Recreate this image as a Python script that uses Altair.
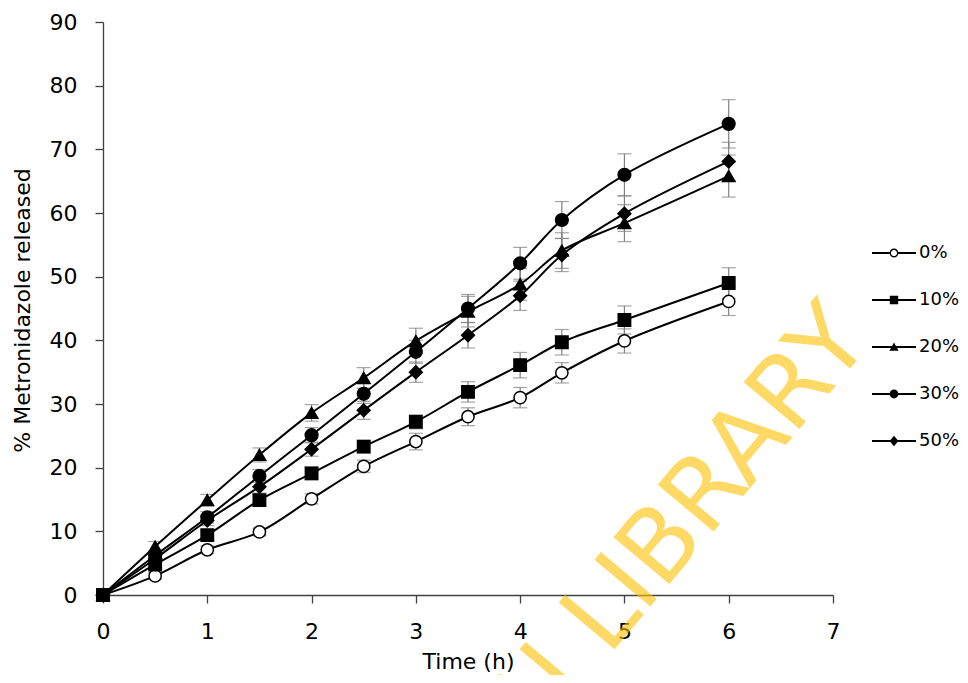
import altair as alt
import pandas as pd

# ---- data ----
time_h = [0, 0.5, 1, 1.5, 2, 2.5, 3, 3.5, 4, 4.4, 5, 6]
series_names = ["0%", "10%", "20%", "30%", "50%"]

rel_0 = [0, 3.0, 7.1, 9.9, 15.1, 20.2, 24.1, 28.0, 31.0, 34.9, 39.9, 46.1]
rel_10 = [0, 4.8, 9.4, 14.9, 19.1, 23.3, 27.2, 31.9, 36.1, 39.7, 43.2, 49.0]
rel_20 = [0, 7.6, 14.9, 22.0, 28.6, 34.1, 39.9, 44.5, 48.8, 54.1, 58.4, 65.8]
rel_30 = [0, 6.2, 12.2, 18.7, 25.1, 31.6, 38.2, 45.0, 52.1, 58.9, 66.0, 74.0]
rel_50 = [0, 5.7, 11.7, 17.0, 22.9, 29.0, 35.0, 40.8, 47.0, 53.4, 59.9, 68.1]

err_0 = [0, 0.5, 0.6, 0.6, 0.8, 1.0, 1.3, 1.4, 1.6, 1.6, 1.9, 2.2]
err_10 = [0, 0.6, 0.8, 0.9, 1.0, 1.0, 1.1, 1.6, 2.0, 2.0, 2.2, 2.4]
err_20 = [0, 0.8, 0.9, 1.1, 1.3, 1.6, 2.0, 2.4, 2.5, 2.8, 2.9, 3.3]
err_30 = [0, 0.7, 0.9, 1.0, 1.2, 1.5, 1.8, 2.2, 2.5, 2.9, 3.3, 3.8]
err_50 = [0, 0.7, 0.8, 1.0, 1.1, 1.4, 1.6, 2.0, 2.3, 2.6, 2.8, 3.0]

x_ticks = [0, 1, 2, 3, 4, 5, 6, 7]
y_ticks = [0, 10, 20, 30, 40, 50, 60, 70, 80, 90]
watermark_text = "UNIVERSITY OF IBADAN LIBRARY"

# ---- build table ----
values = [rel_0, rel_10, rel_20, rel_30, rel_50]
errors = [err_0, err_10, err_20, err_30, err_50]
rows = []
for name, vals, errs in zip(series_names, values, errors):
    for t, v, e in zip(time_h, vals, errs):
        rows.append({"series": name, "time": t, "value": v, "err": e,
                     "lo": v - e, "hi": v + e})
df = pd.DataFrame(rows)

FONT = "DejaVu Sans"

x_enc = alt.X("time:Q", scale=alt.Scale(domain=[0, 7], nice=False),
              axis=alt.Axis(values=x_ticks, title="Time (h)", format="d",
                            labelFlush=False,
                            titleY=73, titleBaseline="alphabetic",
                            titleFontSize=22, titleFontWeight="normal"))
y_scale = alt.Scale(domain=[0, 90], nice=False)
y_enc = alt.Y("value:Q", scale=y_scale,
              axis=alt.Axis(values=y_ticks, title="% Metronidazole released",
                            labelFlush=False,
                            titleX=-81, titleY=288, titleAngle=270,
                            titleAlign="center", titleBaseline="middle",
                            titleFontSize=22, titleFontWeight="normal"))

base = alt.Chart(df)

err_filter = "datum.err > 0"
bars = base.transform_filter(err_filter).mark_rule(
    color="#7f7f7f", strokeWidth=1.2
).encode(x=x_enc, y=alt.Y("lo:Q", scale=y_scale), y2="hi:Q")

caps = base.transform_filter(err_filter).transform_fold(
    ["lo", "hi"], as_=["end", "endval"]
).mark_tick(orient="horizontal", size=14, thickness=1.2, color="#7f7f7f").encode(
    x="time:Q", y=alt.Y("endval:Q", scale=y_scale)
)

lines = base.mark_line(color="black", strokeWidth=2, interpolate="catmull-rom").encode(
    x=x_enc, y=y_enc, detail="series:N"
)

points = base.mark_point(stroke="black", strokeWidth=1.5, opacity=1).encode(
    x=x_enc, y=y_enc,
    shape=alt.Shape("series:N", scale=alt.Scale(
        domain=series_names,
        range=["circle", "square", "triangle-up", "circle", "diamond"]), legend=None),
    fill=alt.Fill("series:N", scale=alt.Scale(
        domain=series_names,
        range=["white", "black", "black", "black", "black"]), legend=None),
    size=alt.Size("series:N", scale=alt.Scale(
        domain=series_names, range=[150, 165, 190, 190, 190]), legend=None),
)

# legend symbols: line with marker (unit box -1..1)
line_l = "M-1,-0.045H-0.2V0.045H-1Z M0.2,-0.045H1V0.045H0.2Z "
line_full = "M-1,-0.045H1V0.045H-1Z "
legend_paths = [
    line_l + "M-0.2,0A0.2,0.2 0 1,1 0.2,0A0.2,0.2 0 1,1 -0.2,0Z "
             "M-0.14,0A0.14,0.14 0 1,0 0.14,0A0.14,0.14 0 1,0 -0.14,0Z",
    line_full + "M-0.19,-0.19H0.19V0.19H-0.19Z",
    line_full + "M0,-0.2L0.21,0.17H-0.21Z",
    line_full + "M-0.2,0A0.2,0.2 0 1,1 0.2,0A0.2,0.2 0 1,1 -0.2,0Z",
    line_full + "M0,-0.24L0.2,0L0,0.24L-0.2,0Z",
]

legend_layer = base.transform_filter("false").mark_point(
    filled=True, color="black", strokeWidth=0, opacity=1
).encode(
    shape=alt.Shape("series:N", scale=alt.Scale(domain=series_names, range=legend_paths),
                    legend=alt.Legend(title=None, orient="none", legendX=769, legendY=209,
                                      symbolSize=1936, symbolFillColor="black",
                                      symbolStrokeWidth=0, symbolOpacity=1,
                                      labelFont=FONT, labelFontSize=18, labelColor="black",
                                      labelOffset=3, rowPadding=16, padding=0,
                                      labelLimit=200))
)

watermark = alt.Chart(pd.DataFrame({"t": [watermark_text]})).mark_text(
    font=FONT, fontSize=100, color="#FFC000", opacity=0.6, angle=310,
    align="right", baseline="middle"
).encode(text="t:N", x=alt.value(747), y=alt.value(300))

chart = alt.layer(bars, caps, lines, points, legend_layer, watermark).resolve_scale(
    shape="independent"
).properties(
    width=730, height=573,
    autosize=alt.AutoSizeParams(type="none"),
    padding={"left": 95, "top": 14, "right": 127, "bottom": 80},
).configure_view(stroke=None).configure_axis(
    grid=False, domainColor="#404040", tickColor="#404040", domainWidth=1.3,
    tickWidth=1.3, tickSize=8, labelFont=FONT, labelFontSize=22, labelColor="black",
    labelPadding=18, titleFont=FONT, titleColor="black"
)

chart.save("out.html", embed_options={"renderer": "svg", "actions": False})
